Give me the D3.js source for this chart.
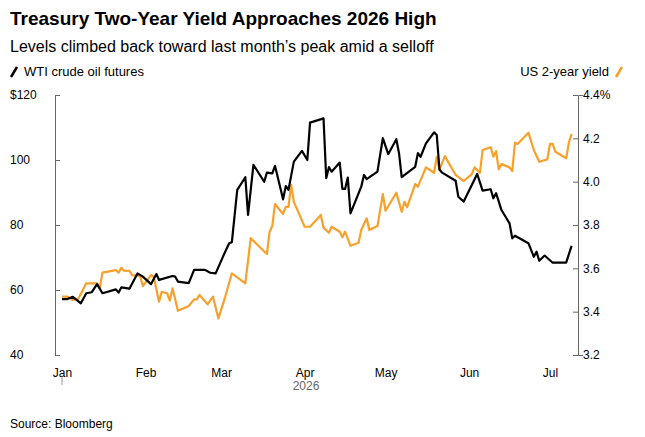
<!DOCTYPE html>
<html>
<head>
<meta charset="utf-8">
<script src="https://cdn.jsdelivr.net/npm/d3@7"></script>
<style>
  body { margin: 0; background: #fff; }
  text { font-family: "Liberation Sans", Arial, sans-serif; }
</style>
</head>
<body>
<svg id="chart" width="645" height="437"></svg>
<script>
// days since Jan 1 2026
var oilDays = [0,2,4,7,9,11,13,15,20,21,22,25,28,30,33,35,36,41,42,43,47,49,53,55,57,60,62,63,65,68,69,71,75,76,78,79,82,83,84,86,89,91,92,97,98,99,100,103,104,105,106,107,111,112,113,117,119,121,124,125,126,131,132,133,135,138,139,140,141,146,147,149,154,156,159,160,161,163,166,167,168,173,175,176,177,179,182,187,189];
var oilValues = [57.2,57.2,57.9,55.9,59.0,59.3,61.8,59.0,60.2,59.2,60.8,60.4,65.1,64.1,61.8,64.9,63.1,64.3,64.1,62.6,62.1,66.2,66.2,65.3,65.1,70.8,74.4,74.7,90.8,94.7,83.1,98.5,93.3,96.1,95.9,98.2,87.9,92.0,90.8,99.5,102.8,100.0,111.5,112.8,94.4,97.8,96.4,99.2,91.1,91.1,94.6,83.6,91.8,95.4,94.1,96.4,106.7,101.8,106.4,102.1,94.7,97.9,102.1,101.0,105.1,108.5,107.7,97.1,96.1,93.6,88.7,87.2,95.7,90.6,91.0,88.2,89.8,84.6,80.5,75.9,76.7,74.4,70.2,71.8,69.0,70.6,68.4,68.4,73.6];

var yieldDays = [0,2,4,6,9,13,14,15,20,21,22,23,25,26,29,30,33,34,36,37,39,40,41,43,47,49,50,51,54,56,58,60,63,68,70,76,77,78,79,82,83,84,85,86,90,92,96,97,99,100,103,104,105,107,110,111,113,114,117,119,120,124,126,127,128,131,132,135,138,139,140,142,146,149,152,153,155,156,159,160,161,162,163,166,167,168,169,173,175,177,180,181,182,183,187,188,189];
var yieldValues = [3.469,3.469,3.454,3.458,3.531,3.531,3.508,3.580,3.592,3.580,3.603,3.589,3.588,3.569,3.565,3.518,3.569,3.561,3.446,3.492,3.485,3.451,3.508,3.404,3.426,3.457,3.457,3.477,3.434,3.469,3.369,3.446,3.577,3.531,3.739,3.666,3.769,3.795,3.897,3.851,3.884,3.884,3.985,3.907,3.792,3.792,3.846,3.787,3.764,3.792,3.769,3.743,3.769,3.704,3.718,3.777,3.831,3.777,3.795,3.943,3.866,3.949,3.861,3.907,3.882,3.989,3.977,4.066,4.041,4.115,4.054,4.118,4.031,4.003,4.035,4.066,4.041,4.146,4.159,4.115,4.141,4.057,4.081,4.066,4.049,4.180,4.174,4.226,4.146,4.092,4.103,4.174,4.174,4.138,4.108,4.180,4.220];

var oilTicks = [40, 60, 80, 100, 120];
var yieldTicks = [3.2, 3.4, 3.6, 3.8, 4.0, 4.2, 4.4];
var monthLabels = ["Jan", "Feb", "Mar", "Apr", "May", "Jun", "Jul"];

var start = new Date(2026, 0, 1);
function toDate(d) { return d3.timeDay.offset(start, d); }
var oil = oilDays.map(function(d, i) { return { date: toDate(d), v: oilValues[i] }; });
var yld = yieldDays.map(function(d, i) { return { date: toDate(d), v: yieldValues[i] }; });

var svg = d3.select("#chart");
var plotLeft = 55, plotRight = 578, plotTop = 95, plotBottom = 355;

var x = d3.scaleTime()
    .domain([new Date(2026, 0, 1), new Date(2026, 6, 1)])
    .range([62, 550]);
var yL = d3.scaleLinear().domain([40, 120]).range([plotBottom, plotTop]);
var yR = d3.scaleLinear().domain([3.2, 4.4]).range([plotBottom, plotTop]);

// titles
svg.append("text").attr("x", 10).attr("y", 25)
    .attr("font-size", 19).attr("font-weight", "bold").attr("fill", "#000")
    .text("Treasury Two-Year Yield Approaches 2026 High");
svg.append("text").attr("x", 10).attr("y", 52)
    .attr("font-size", 16).attr("fill", "#000")
    .text("Levels climbed back toward last month’s peak amid a selloff");

// legend
svg.append("line").attr("x1", 11).attr("y1", 77).attr("x2", 17).attr("y2", 67)
    .attr("stroke", "#000").attr("stroke-width", 2.5);
svg.append("text").attr("x", 24).attr("y", 76).attr("font-size", 13).text("WTI crude oil futures");
svg.append("text").attr("x", 609).attr("y", 76).attr("font-size", 13)
    .attr("text-anchor", "end").text("US 2-year yield");
svg.append("line").attr("x1", 616).attr("y1", 77).attr("x2", 622).attr("y2", 67)
    .attr("stroke", "#f7a02c").attr("stroke-width", 2.5);

// left axis
var gL = svg.append("g").attr("transform", "translate(" + plotLeft + ",0)")
    .call(d3.axisRight(yL).tickValues(oilTicks).tickSize(5)
        .tickFormat(function(d) { return d === 120 ? "$120" : d; }));
gL.select(".domain").attr("stroke", "#666");
gL.selectAll(".tick line").attr("stroke", "#666");
gL.selectAll(".tick text").attr("x", -45).attr("text-anchor", "start")
    .attr("font-size", 12).attr("fill", "#000").attr("font-family", "Liberation Sans, Arial, sans-serif");

// right axis
var gR = svg.append("g").attr("transform", "translate(" + plotRight + ",0)")
    .call(d3.axisRight(yR).tickValues(yieldTicks).tickSize(5)
        .tickFormat(function(d) { return d === 4.4 ? "4.4%" : d3.format(".1f")(d); }));
gR.select(".domain").attr("stroke", "#666");
gR.selectAll(".tick line").attr("x2", -5).attr("stroke", "#666");
gR.selectAll(".tick text").attr("x", 5).attr("font-size", 12).attr("fill", "#000")
    .attr("font-family", "Liberation Sans, Arial, sans-serif");

// x axis
var gX = svg.append("g").attr("transform", "translate(0," + plotBottom + ")")
    .call(d3.axisBottom(x).ticks(d3.timeMonth.every(1)).tickSize(0)
        .tickFormat(function(d, i) { return monthLabels[i]; }));
gX.select(".domain").remove();
gX.selectAll(".tick text").attr("y", 13).attr("font-size", 12).attr("fill", "#000")
    .attr("font-family", "Liberation Sans, Arial, sans-serif");
svg.append("line").attr("x1", x(start)).attr("x2", x(start)).attr("y1", 377).attr("y2", 385)
    .attr("stroke", "#999");
svg.append("text").attr("x", (x(start) + x(new Date(2026, 6, 1))) / 2).attr("y", 390)
    .attr("text-anchor", "middle").attr("font-size", 12).attr("fill", "#666").text("2026");

// lines
var lineL = d3.line().x(function(d) { return x(d.date); }).y(function(d) { return yL(d.v); });
var lineR = d3.line().x(function(d) { return x(d.date); }).y(function(d) { return yR(d.v); });
svg.append("path").datum(yld).attr("d", lineR).attr("fill", "none")
    .attr("stroke", "#f7a02c").attr("stroke-width", 2.2).attr("stroke-linejoin", "round");
svg.append("path").datum(oil).attr("d", lineL).attr("fill", "none")
    .attr("stroke", "#000").attr("stroke-width", 2.2).attr("stroke-linejoin", "round");

svg.append("text").attr("x", 10).attr("y", 428).attr("font-size", 12).text("Source: Bloomberg");
</script>
</body>
</html>
